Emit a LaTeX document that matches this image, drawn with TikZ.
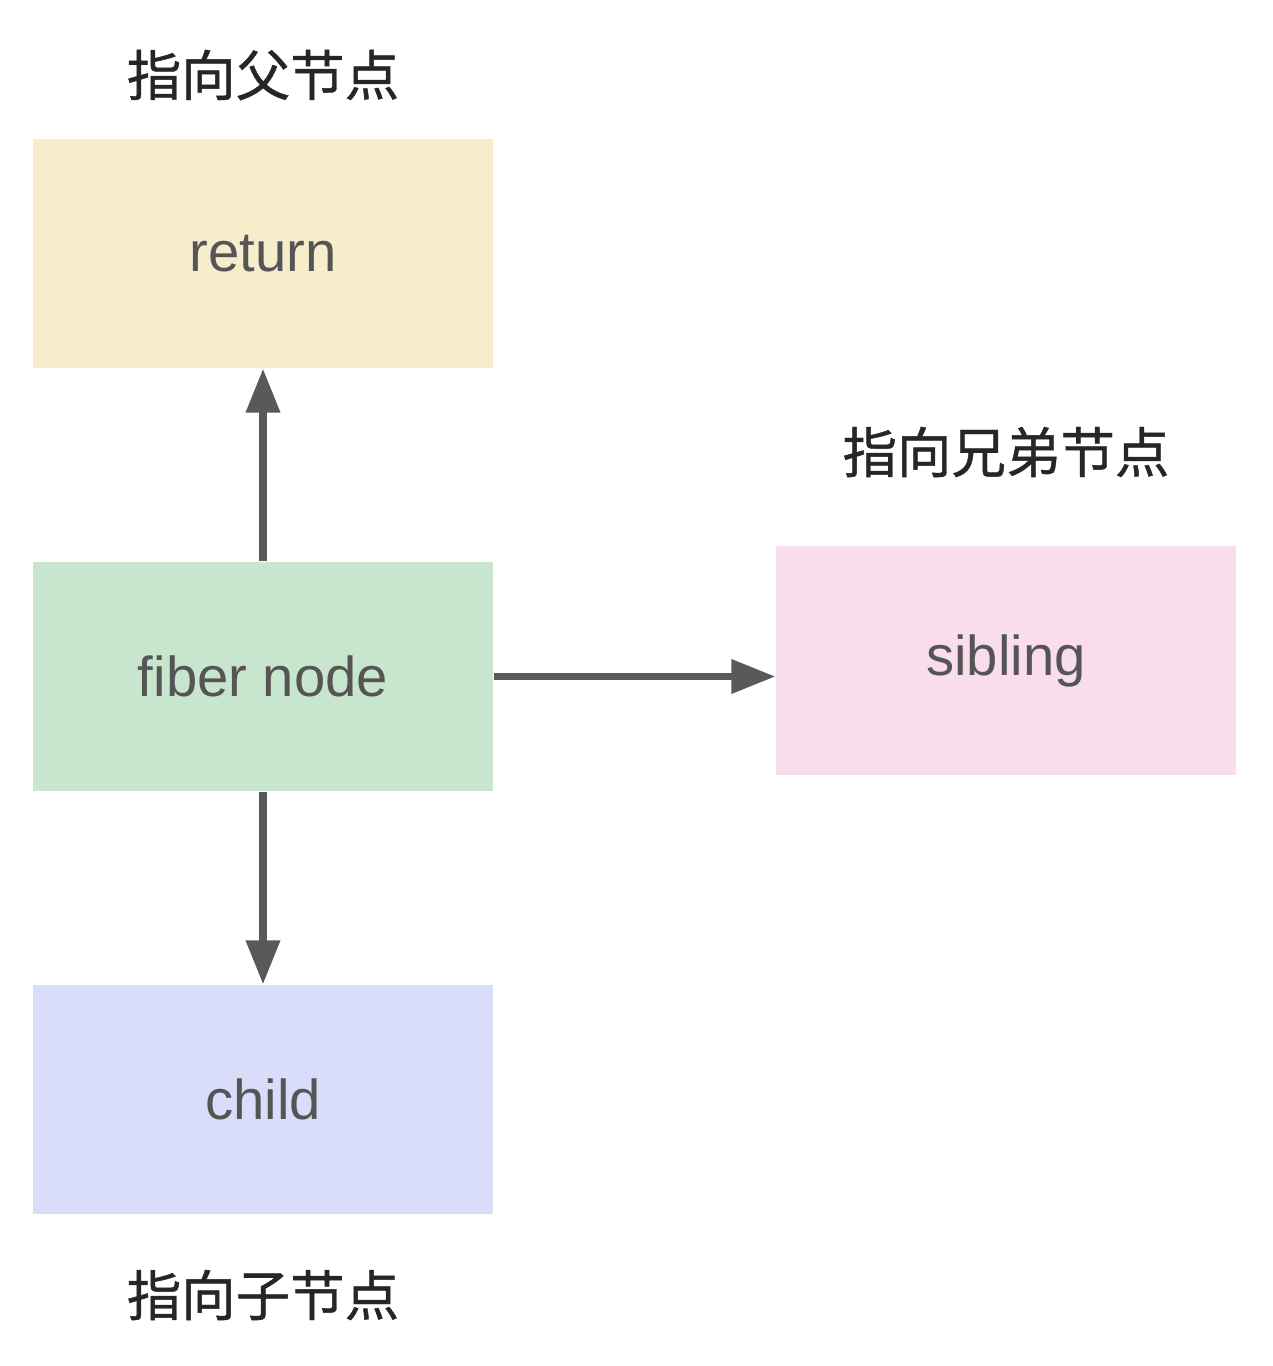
\documentclass[tikz,border=0pt]{standalone}
\usepackage{fontspec}
\setmainfont{Liberation Sans}
\newfontfamily\cjk[FakeBold=0.8]{Noto Sans CJK SC}
\usetikzlibrary{
	arrows.meta,
	calc,
	positioning,
}
\definecolor{retfill}{HTML}{F8EDCB}
\definecolor{fibfill}{HTML}{C8E6CD}
\definecolor{sibfill}{HTML}{FADDEC}
\definecolor{chifill}{HTML}{D9DDFA}
\definecolor{linegray}{HTML}{575A59}
\definecolor{textgray}{HTML}{555555}
\tikzset{fiber box/.style={
	rectangle,
	minimum width=4.6cm,
	minimum height=2.29cm,
	inner sep=0mm,
	font=\fontsize{16}{18}\selectfont,
	text=textgray,
}}
\tikzset{pointer label/.style={
	font=\cjk\fontsize{15.5}{18}\selectfont,
	text=black!85,
}}
\tikzset{pointer/.style={
	draw=linegray,
	line width=2pt,
	-{Triangle[length=4.4mm,width=3.3mm]},
}}

\begin{document}
\begin{tikzpicture}
\useasboundingbox (0,0) rectangle (12.72,-13.66);

\node[fiber box, fill=retfill](return) at(2.63,-2.535){return};
\node[fiber box, fill=fibfill](fiber) at(2.63,-6.765){fiber node};
\node[fiber box, fill=sibfill](sibling) at(10.06,-6.605){sibling};
\node[fiber box, fill=chifill](child) at(2.63,-10.995){child};

\node[pointer label](lreturn) at(2.63,-0.75){指向父节点};
\node[pointer label](lsibling) at(10.06,-4.52){指向兄弟节点};
\node[pointer label](lchild) at(2.63,-12.95){指向子节点};

\foreach \u \v in {
	north/return.south%
	,south/child.north%
}{
	\draw[pointer] (fiber.\u) -- (\v);
}
\draw[pointer] (fiber.east) -- (fiber.east -| sibling.west);
\end{tikzpicture}
\end{document}
